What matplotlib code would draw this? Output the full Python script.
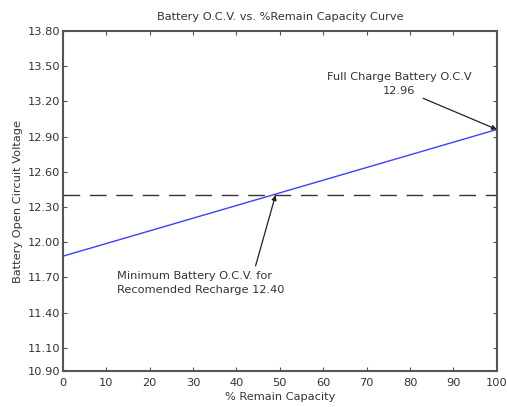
import matplotlib
matplotlib.use("Agg")
import matplotlib.pyplot as plt

capacity = [0, 100]
voltage = [11.88, 12.96]
min_recharge = 12.40
full_charge = 12.96
min_cap = 49
xticks = [0, 10, 20, 30, 40, 50, 60, 70, 80, 90, 100]
yticks = [10.90, 11.10, 11.40, 11.70, 12.00, 12.30, 12.60, 12.90, 13.20, 13.50, 13.80]

plt.rcParams['font.family'] = ['DejaVu Sans']
fig = plt.figure(figsize=(5.07, 4.07), dpi=100)
ax = fig.add_axes([0.124, 0.088, 0.856, 0.836])

ax.plot(capacity, voltage, color='#4040ff', lw=1.0)
ax.axhline(min_recharge, color='#333333', lw=1.0, dashes=(12, 7))

fs = 8.2
ax.set_xlim(0, 100)
ax.set_ylim(10.9, 13.8)
ax.set_xticks(xticks)
ax.set_yticks(yticks)
ax.set_yticklabels([f"{v:.2f}" for v in yticks])
ax.tick_params(direction='in', top=True, right=True, labelsize=fs, length=3, color='#555555', labelcolor='#333333')
ax.tick_params(axis='x', pad=5)
ax.tick_params(axis='y', pad=2)
for s in ax.spines.values():
    s.set_color('#555555')
    s.set_linewidth(1.5)

ax.set_title('Battery O.C.V. vs. %Remain Capacity Curve', fontsize=fs, pad=8, color='#333333')
ax.set_xlabel('% Remain Capacity', fontsize=fs, labelpad=3, color='#333333')
ax.set_ylabel('Battery Open Circuit Voltage', fontsize=fs, labelpad=3, color='#333333')

ax.annotate('Full Charge Battery O.C.V\n12.96', xy=(100, full_charge), xytext=(77.5, 13.35),
            fontsize=fs, ha='center', va='center', color='#333333', linespacing=1.45,
            arrowprops=dict(arrowstyle='-|>', color='#222222', lw=0.9, mutation_scale=7,
                            shrinkA=0, shrinkB=0,
                            relpos=(0.62, 0.0)))
ax.annotate('Minimum Battery O.C.V. for\nRecomended Recharge 12.40', xy=(min_cap, min_recharge),
            xytext=(12.4, 11.65), fontsize=fs, ha='left', va='center', color='#333333', linespacing=1.45,
            arrowprops=dict(arrowstyle='-|>', color='#222222', lw=0.9, mutation_scale=7,
                            shrinkA=2, shrinkB=0, relpos=(0.82, 1.0)))

fig.savefig('out.png', dpi=100)
